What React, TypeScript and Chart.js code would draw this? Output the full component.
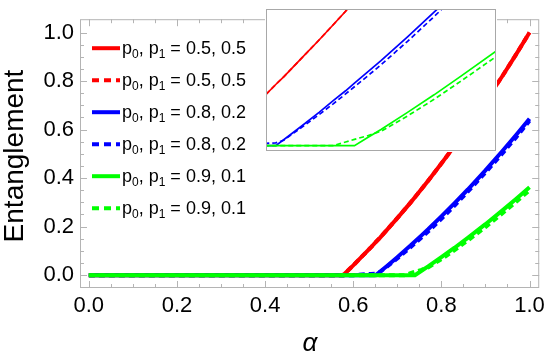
import React, { useEffect, useRef } from 'react';
import { Chart, registerables } from 'chart.js';

Chart.register(...registerables);

// ---- data ----
const ALPHA = [0, 0.2, 0.4, 0.5, 0.55, 0.577, 0.6, 0.62, 0.64, 0.651, 0.66, 0.68, 0.7, 0.716, 0.73, 0.74, 0.755, 0.77, 0.8, 0.83, 0.86, 0.9, 0.94, 0.97, 1.0];
const RED_SOLID = [0, 0, 0, 0, 0, 0, 0.04, 0.077, 0.114, 0.136, 0.153, 0.194, 0.235, 0.269, 0.299, 0.321, 0.355, 0.389, 0.46, 0.533, 0.609, 0.715, 0.825, 0.911, 1.0];
const RED_DASHED = [0, 0, 0, 0, 0, 0, 0.04, 0.077, 0.114, 0.136, 0.153, 0.194, 0.235, 0.269, 0.299, 0.321, 0.355, 0.389, 0.46, 0.533, 0.609, 0.715, 0.825, 0.911, 1.0];
const BLUE_SOLID = [0, 0, 0, 0, 0, 0, 0, 0, 0, 0, 0.013, 0.043, 0.074, 0.1, 0.122, 0.139, 0.164, 0.189, 0.242, 0.297, 0.353, 0.432, 0.515, 0.579, 0.645];
const BLUE_DASHED = [0, 0, 0, 0, 0, 0, 0, 0.003, 0.005, 0.006, 0.012, 0.04, 0.069, 0.093, 0.115, 0.131, 0.155, 0.18, 0.232, 0.287, 0.344, 0.423, 0.505, 0.569, 0.636];
const GREEN_SOLID = [0, 0, 0, 0, 0, 0, 0, 0, 0, 0, 0, 0, 0, 0, 0, 0, 0.018, 0.036, 0.074, 0.113, 0.154, 0.21, 0.269, 0.315, 0.362];
const GREEN_DASHED = [0, 0, 0, 0, 0, 0, 0, 0, 0, 0, 0, 0, 0, 0, 0.008, 0.014, 0.022, 0.032, 0.066, 0.103, 0.143, 0.198, 0.257, 0.303, 0.35];

const P0_VALUES = ['0.5', '0.5', '0.8', '0.8', '0.9', '0.9'];
const P1_VALUES = ['0.5', '0.5', '0.2', '0.2', '0.1', '0.1'];
const COLORS = ['#ff0000', '#ff0000', '#0000ff', '#0000ff', '#00ff00', '#00ff00'];
const DASHED = [false, true, false, true, false, true];
const SERIES = [RED_SOLID, RED_DASHED, BLUE_SOLID, BLUE_DASHED, GREEN_SOLID, GREEN_DASHED];

const X_TICKS = [0, 0.2, 0.4, 0.6, 0.8, 1.0];
const Y_TICKS = [0, 0.2, 0.4, 0.6, 0.8, 1.0];
const MINOR_STEP = 0.05;
const X_TITLE = 'α';
const Y_TITLE = 'Entanglement';

// main ranges
const X_MIN = -0.02, X_MAX = 1.022;
const Y_MIN = -0.053, Y_MAX = 1.055;
// inset ranges
const IX_MIN = 0.64, IX_MAX = 0.9;
const IY_MIN = -0.012, IY_MAX = 0.304;

const FONT = '"Liberation Sans", Arial, Helvetica, sans-serif';
const FRAME = '#b4b4b4';

function buildDatasets(lw: number, dash: number[]) {
  return SERIES.map((s, i) => ({
    label: `p0, p1 = ${P0_VALUES[i]}, ${P1_VALUES[i]}`,
    data: ALPHA.map((a, j) => ({ x: a, y: s[j] })),
    borderColor: COLORS[i],
    backgroundColor: COLORS[i],
    borderWidth: lw,
    borderDash: DASHED[i] ? dash : [],
    pointRadius: 0,
    fill: false,
    tension: 0,
    order: SERIES.length - i,
    clip: 0,
  }));
}

const framePlugin = {
  id: 'frameTicks',
  beforeDatasetsDraw(chart: any) {
    const { ctx, chartArea: a, scales } = chart;
    const x = scales.x, y = scales.y;
    ctx.save();
    ctx.strokeStyle = FRAME;
    ctx.lineWidth = 1;
    ctx.strokeRect(a.left + 0.5, a.top + 0.5, a.right - a.left - 1, a.bottom - a.top - 1);
    const n = Math.round(1 / MINOR_STEP);
    ctx.beginPath();
    for (let i = 0; i <= n; i++) {
      const v = i * MINOR_STEP;
      const len = i % 4 === 0 ? 7 : 4;
      const px = Math.round(x.getPixelForValue(v)) + 0.5;
      ctx.moveTo(px, a.bottom); ctx.lineTo(px, a.bottom - len);
      ctx.moveTo(px, a.top); ctx.lineTo(px, a.top + len);
      const py = Math.round(y.getPixelForValue(v)) + 0.5;
      ctx.moveTo(a.left, py); ctx.lineTo(a.left + len, py);
      ctx.moveTo(a.right, py); ctx.lineTo(a.right - len, py);
    }
    ctx.stroke();
    ctx.restore();
  },
};

const overlayPlugin = {
  id: 'legendTitles',
  afterDraw(chart: any) {
    const { ctx, chartArea: a } = chart;
    ctx.save();
    // axis titles
    ctx.fillStyle = '#000';
    ctx.textAlign = 'center';
    ctx.textBaseline = 'middle';
    ctx.font = `28px ${FONT}`;
    ctx.save();
    ctx.translate(15, 156);
    ctx.rotate(-Math.PI / 2);
    ctx.fillText(Y_TITLE, 0, 0);
    ctx.restore();
    ctx.font = `italic 26px ${FONT}`;
    ctx.fillText(X_TITLE, 310, 344);

    // legend
    const ds = chart.data.datasets;
    ds.forEach((d: any, i: number) => {
      const cy = a.top + 29 + 32 * i;
      const x0 = a.left + 12;
      const x1 = a.left + 40;
      ctx.save();
      ctx.strokeStyle = d.borderColor;
      ctx.lineWidth = 4;
      ctx.setLineDash(DASHED[i] ? [7, 5] : []);
      ctx.beginPath();
      ctx.moveTo(x0, cy);
      ctx.lineTo(x1, cy);
      ctx.stroke();
      ctx.restore();
      // text with subscripts
      const base = cy + 6;
      let tx = x1 + 2;
      ctx.textAlign = 'left';
      ctx.textBaseline = 'alphabetic';
      const big = `18px ${FONT}`;
      const small = `12px ${FONT}`;
      const parts: [string, boolean][] = [
        ['p', false], ['0', true], [', p', false], ['1', true], [` = ${P0_VALUES[i]}, ${P1_VALUES[i]}`, false],
      ];
      parts.forEach(([t, sub]) => {
        ctx.font = sub ? small : big;
        ctx.fillText(t, tx, sub ? base + 4 : base);
        tx += ctx.measureText(t).width;
      });
    });
    ctx.restore();
  },
};

const insetPlugin = {
  id: 'insetBox',
  beforeDraw(chart: any) {
    const { ctx, width, height } = chart;
    ctx.save();
    ctx.fillStyle = '#fff';
    ctx.fillRect(0, 0, width, height);
    ctx.restore();
  },
  afterDraw(chart: any) {
    const { ctx, chartArea: a } = chart;
    ctx.save();
    ctx.strokeStyle = '#a8a8a8';
    ctx.lineWidth = 1;
    ctx.strokeRect(a.left + 0.5, a.top + 0.5, a.right - a.left - 1, a.bottom - a.top - 1);
    ctx.restore();
  },
};

export default function App() {
  const mainRef = useRef<HTMLCanvasElement>(null);
  const insetRef = useRef<HTMLCanvasElement>(null);

  useEffect(() => {
    const tickFont = { family: FONT, size: 22 };
    const main = new Chart(mainRef.current as HTMLCanvasElement, {
      type: 'line',
      data: { datasets: buildDatasets(4, [6, 4]) as any },
      options: {
        responsive: false,
        animation: false,
        devicePixelRatio: 1,
        layout: { padding: { top: 4, right: 9, left: 0, bottom: 0 } },
        plugins: { legend: { display: false }, tooltip: { enabled: false } },
        scales: {
          x: {
            type: 'linear',
            min: X_MIN,
            max: X_MAX,
            afterBuildTicks: (s: any) => { s.ticks = X_TICKS.map((v) => ({ value: v })); },
            afterFit: (s: any) => { s.height = 69; },
            ticks: { callback: (v: any) => Number(v).toFixed(1), font: tickFont, color: '#000', padding: 5, maxRotation: 0, autoSkip: false },
            grid: { display: false, drawTicks: false },
            border: { display: false },
          },
          y: {
            type: 'linear',
            min: Y_MIN,
            max: Y_MAX,
            afterBuildTicks: (s: any) => { s.ticks = Y_TICKS.map((v) => ({ value: v })); },
            afterFit: (s: any) => { s.width = 80; },
            ticks: { callback: (v: any) => Number(v).toFixed(1), font: tickFont, color: '#000', padding: 6, autoSkip: false },
            grid: { display: false, drawTicks: false },
            border: { display: false },
          },
        },
      },
      plugins: [framePlugin, overlayPlugin],
    });

    const inset = new Chart(insetRef.current as HTMLCanvasElement, {
      type: 'line',
      data: { datasets: buildDatasets(1.7, [5, 3]) as any },
      options: {
        responsive: false,
        animation: false,
        devicePixelRatio: 1,
        layout: { padding: 1 },
        plugins: { legend: { display: false }, tooltip: { enabled: false } },
        scales: {
          x: { type: 'linear', min: IX_MIN, max: IX_MAX, display: false },
          y: { type: 'linear', min: IY_MIN, max: IY_MAX, display: false },
        },
      },
      plugins: [insetPlugin],
    });

    return () => {
      main.destroy();
      inset.destroy();
    };
  }, []);

  return (
    <div style={{ position: 'absolute', left: 0, top: 0, width: 550, height: 357, background: '#fff' }}>
      <canvas ref={mainRef} width={550} height={357} style={{ position: 'absolute', left: 0, top: 0, width: 550, height: 357 }} />
      <canvas ref={insetRef} width={232} height={144} style={{ position: 'absolute', left: 265, top: 8, width: 232, height: 144 }} />
    </div>
  );
}
